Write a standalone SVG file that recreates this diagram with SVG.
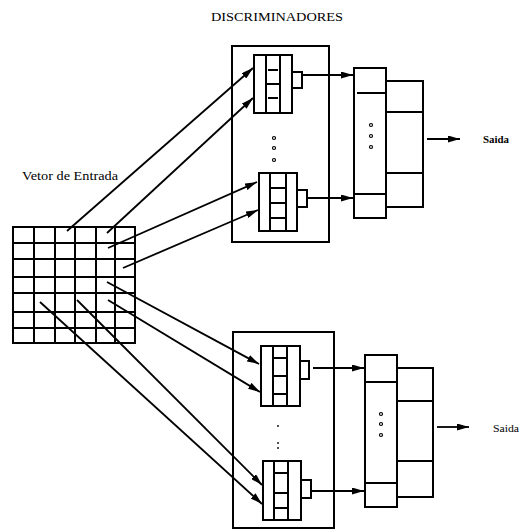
<svg xmlns="http://www.w3.org/2000/svg" width="528" height="531" viewBox="0 0 528 531">
<defs>
<style>
.s{fill:none;stroke:#000;stroke-width:2}
.t{font-family:"Liberation Serif","Times New Roman",serif;fill:#000}
.c{stroke:#000;stroke-width:1.8;fill:none}
.dot{fill:#fff;stroke:#000;stroke-width:1.2}
</style>
<marker id="ah" viewBox="0 0 12 7" refX="12" refY="3.5" markerWidth="12" markerHeight="7" markerUnits="userSpaceOnUse" orient="auto">
<path d="M0,0 L12,3.5 L0,7 Z" fill="#000"/>
</marker>
</defs>
<rect width="528" height="531" fill="#fff"/>

<text class="t" x="211" y="21" font-size="13" textLength="132" lengthAdjust="spacingAndGlyphs">DISCRIMINADORES</text>

<g id="input-vector">
<text class="t" x="22" y="180" font-size="13" textLength="96" lengthAdjust="spacingAndGlyphs">Vetor de Entrada</text>
<rect class="s" x="13" y="227" width="122" height="116"/>
<path class="s" d="M34,227V343M55,227V343M75,227V343M96,227V343M115,227V343M13,243H135M13,259H135M13,277H135M13,293H135M13,312H135M13,328H135"/>
</g>

<g id="discriminator-1">
<rect class="s" x="232" y="46" width="97" height="196"/>
<g id="ram-1a">
<rect class="s" x="254" y="55" width="38" height="58"/>
<path class="s" d="M266,55V113M280,55V113M268,70H278M266,84H280M268,98H278"/>
<rect class="s" x="292" y="72" width="10" height="16"/>
</g>
<g id="ram-1b">
<rect class="s" x="259" y="173" width="38" height="58"/>
<path class="s" d="M270,173V231M286,173V231M270,188H286M270,203H286M270,218H286"/>
<rect class="s" x="297" y="190" width="10" height="17"/>
</g>
<circle class="dot" cx="274" cy="138" r="1.5"/>
<circle class="dot" cx="274" cy="148" r="1.5"/>
<circle class="dot" cx="274" cy="160" r="1.5"/>
</g>

<g id="accumulator-1">
<rect class="s" x="354" y="68" width="32" height="150"/>
<path class="s" d="M386,81H423V207H386M386,112H423M386,173H423M357,93H386M354,194H386"/>
<circle class="dot" cx="371" cy="125" r="1.5"/>
<circle class="dot" cx="371" cy="136" r="1.5"/>
<circle class="dot" cx="371" cy="147" r="1.5"/>
<text class="t" x="483" y="143" font-size="11" font-weight="bold" textLength="26" lengthAdjust="spacingAndGlyphs">Saida</text>
</g>

<g id="discriminator-2">
<rect class="s" x="233" y="332" width="101" height="196"/>
<g id="ram-2a">
<rect class="s" x="261" y="346" width="39" height="60"/>
<path class="s" d="M273,346V406M287,346V406M273,358H287M273,376H287M273,394H287"/>
<rect class="s" x="300" y="361" width="9" height="18"/>
</g>
<g id="ram-2b">
<rect class="s" x="263" y="461" width="38" height="59"/>
<path class="s" d="M274,461V520M288,461V520M274,473H288M274,493H288M274,508H288"/>
<rect class="s" x="301" y="480" width="10" height="18"/>
</g>
<circle cx="278" cy="426" r="0.9" fill="#000"/>
<circle cx="278" cy="443" r="0.9" fill="#000"/>
<circle cx="278" cy="448" r="0.9" fill="#000"/>
</g>

<g id="accumulator-2">
<rect class="s" x="365" y="355" width="32" height="152"/>
<path class="s" d="M397,368H433V497H397M397,401H433M397,461H433M365,382H397M365,483H397"/>
<circle class="dot" cx="381" cy="414" r="1.5"/>
<circle class="dot" cx="381" cy="424" r="1.5"/>
<circle class="dot" cx="381" cy="435" r="1.5"/>
<text class="t" x="493" y="432" font-size="11" textLength="26" lengthAdjust="spacingAndGlyphs">Saida</text>
</g>

<g id="connectors">
<path class="c" marker-end="url(#ah)" d="M67,231L253,68"/>
<path class="c" marker-end="url(#ah)" d="M107,233L253,98"/>
<path class="c" marker-end="url(#ah)" d="M108,248L257,182"/>
<path class="c" marker-end="url(#ah)" d="M123,268L258,210"/>
<path class="c" marker-end="url(#ah)" d="M107,282L259,364"/>
<path class="c" marker-end="url(#ah)" d="M108,300L260,392"/>
<path class="c" marker-end="url(#ah)" d="M77,300L262,485"/>
<path class="c" marker-end="url(#ah)" d="M40,302L262,504"/>
<path class="c" marker-end="url(#ah)" d="M302,75H353"/>
<path class="c" marker-end="url(#ah)" d="M307,198H353"/>
<path class="c" marker-end="url(#ah)" d="M313,368H364"/>
<path class="c" marker-end="url(#ah)" d="M311,491H364"/>
<path class="c" marker-end="url(#ah)" d="M427,139H460"/>
<path class="c" marker-end="url(#ah)" d="M437,427H469"/>
</g>
</svg>
